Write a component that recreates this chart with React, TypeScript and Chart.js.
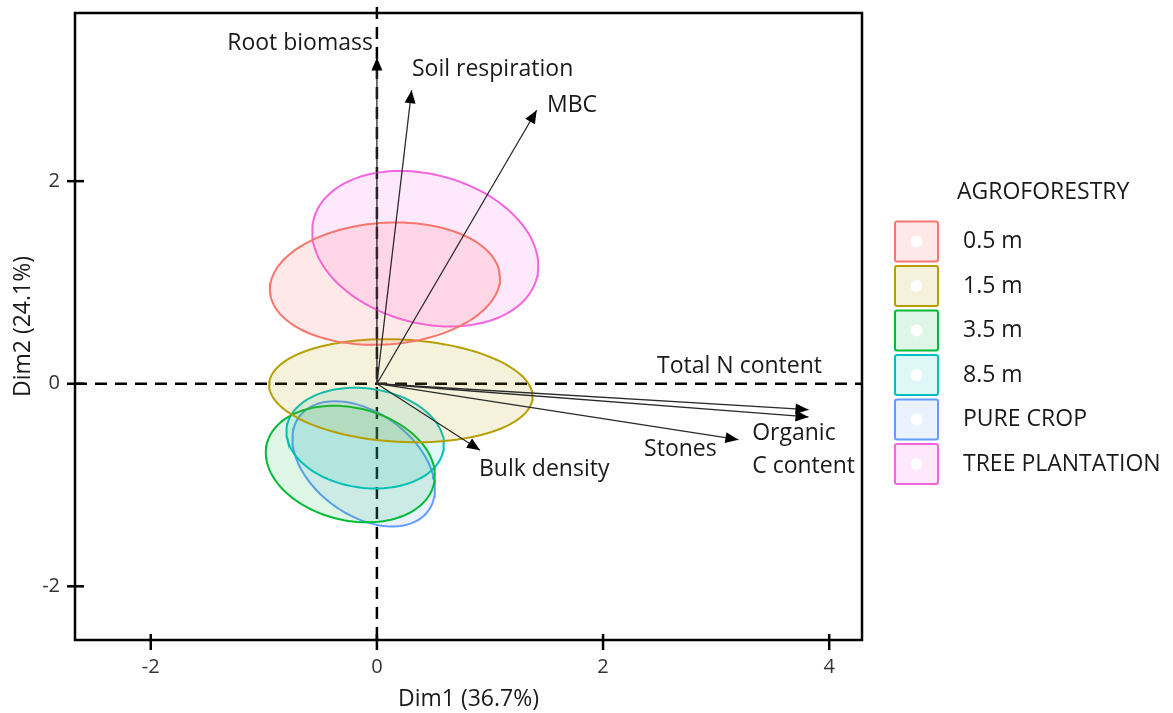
import React, { useEffect, useRef } from "react";
import { Chart, registerables } from "chart.js";

Chart.register(...registerables);

// ---------- data ----------
const legendTitle = "AGROFORESTRY";
const groups = ["0.5 m", "1.5 m", "3.5 m", "8.5 m", "PURE CROP", "TREE PLANTATION"];
const groupColors = ["#F8766D", "#B79F00", "#00BA38", "#00BFC4", "#619CFF", "#F564E3"];
const groupFills = [
  "rgba(248,118,109,0.16)",
  "rgba(183,159,0,0.14)",
  "rgba(0,186,56,0.13)",
  "rgba(0,191,196,0.13)",
  "rgba(97,156,255,0.13)",
  "rgba(245,100,227,0.15)",
];
// confidence ellipses (data units): centre, semi-axes, rotation (deg)
const ellipseCenterX = [0.071, 0.212, -0.235, -0.104, -0.117, 0.427];
const ellipseCenterY = [0.988, -0.069, -0.793, -0.537, -0.791, 1.333];
const ellipseMajor = [1.02, 1.167, 0.766, 0.702, 0.739, 1.03];
const ellipseMinor = [0.6, 0.505, 0.551, 0.489, 0.483, 0.727];
const ellipseAngle = [4.9, -3.5, -18.2, -10.3, -43.6, -19.8];

const variables = ["Root biomass", "Soil respiration", "MBC", "Total N content", "Organic C content", "Stones", "Bulk density"];
const loadingX = [0, 0.307, 1.413, 3.817, 3.817, 3.197, 0.912];
const loadingY = [3.22, 2.897, 2.7, -0.256, -0.328, -0.552, -0.657];
const labelLines = [["Root biomass"], ["Soil respiration"], ["MBC"], ["Total N content"], ["Organic", "C content"], ["Stones"], ["Bulk density"]];
const labelX = [-0.035, 0.31, 1.504, 2.478, 3.319, 2.363, 0.903];
const labelY = [3.36, 3.1, 2.749, 0.167, -0.493, -0.65, -0.847];
const labelAlign = ["right", "left", "left", "left", "left", "left", "left"];

const xTicks = [-2, 0, 2, 4];
const yTicks = [-2, 0, 2];
const xTitle = "Dim1 (36.7%)";
const yTitle = "Dim2 (24.1%)";

const FONT = "'Open Sans', 'Noto Sans', sans-serif";
const TEXT = "#1a1a1a";

function ellipsePoints(i: number) {
  const pts: { x: number; y: number }[] = [];
  const a = ellipseMajor[i];
  const b = ellipseMinor[i];
  const phi = (ellipseAngle[i] * Math.PI) / 180;
  const n = 120;
  for (let k = 0; k <= n; k++) {
    const t = (k / n) * Math.PI * 2;
    pts.push({
      x: ellipseCenterX[i] + a * Math.cos(phi) * Math.cos(t) - b * Math.sin(phi) * Math.sin(t),
      y: ellipseCenterY[i] + a * Math.sin(phi) * Math.cos(t) + b * Math.cos(phi) * Math.sin(t),
    });
  }
  return pts;
}

const biplotPlugin = {
  id: "biplot",
  beforeDatasetsDraw(chart: any) {
    const { ctx, chartArea: ca, scales } = chart;
    const x0 = scales.x.getPixelForValue(0);
    const y0 = scales.y.getPixelForValue(0);
    ctx.save();
    ctx.strokeStyle = "#000";
    ctx.lineWidth = 2.5;
    ctx.setLineDash([12, 8]);
    ctx.beginPath();
    ctx.moveTo(ca.left, y0);
    ctx.lineTo(ca.right, y0);
    ctx.stroke();
    ctx.beginPath();
    ctx.moveTo(x0, ca.top - 6);
    ctx.lineTo(x0, ca.bottom);
    ctx.stroke();
    ctx.restore();
  },
  beforeDatasetDraw(chart: any, args: any) {
    const ds = chart.data.datasets[args.index];
    if (ds.kind !== "ellipse") return;
    const pts = args.meta.data;
    const { ctx } = chart;
    ctx.save();
    ctx.fillStyle = ds.fillColor;
    ctx.beginPath();
    pts.forEach((p: any, k: number) => (k === 0 ? ctx.moveTo(p.x, p.y) : ctx.lineTo(p.x, p.y)));
    ctx.closePath();
    ctx.fill();
    ctx.restore();
  },
  afterDatasetsDraw(chart: any) {
    const { ctx, scales } = chart;
    ctx.save();
    chart.data.datasets.forEach((ds: any, i: number) => {
      if (ds.kind !== "arrow") return;
      const meta = chart.getDatasetMeta(i);
      const p0 = meta.data[0];
      const p1 = meta.data[1];
      const ang = Math.atan2(p1.y - p0.y, p1.x - p0.x);
      const L = 13;
      const W = 5.5;
      ctx.fillStyle = "#000";
      ctx.beginPath();
      ctx.moveTo(p1.x, p1.y);
      ctx.lineTo(p1.x - L * Math.cos(ang) + W * Math.sin(ang), p1.y - L * Math.sin(ang) - W * Math.cos(ang));
      ctx.lineTo(p1.x - L * Math.cos(ang) - W * Math.sin(ang), p1.y - L * Math.sin(ang) + W * Math.cos(ang));
      ctx.closePath();
      ctx.fill();
    });
    ctx.font = `23px ${FONT}`;
    ctx.fillStyle = TEXT;
    ctx.textBaseline = "middle";
    labelLines.forEach((lines, i) => {
      const px = scales.x.getPixelForValue(labelX[i]);
      const py = scales.y.getPixelForValue(labelY[i]);
      ctx.textAlign = labelAlign[i] as CanvasTextAlign;
      lines.forEach((ln, k) => ctx.fillText(ln, px, py + k * 33));
    });
    ctx.restore();
  },
  afterDraw(chart: any) {
    const { ctx, chartArea: ca, scales } = chart;
    ctx.save();
    ctx.strokeStyle = "#000";
    ctx.lineWidth = 2.5;
    ctx.strokeRect(ca.left, ca.top, ca.right - ca.left, ca.bottom - ca.top);
    xTicks.forEach((v) => {
      const px = scales.x.getPixelForValue(v);
      ctx.beginPath();
      ctx.moveTo(px, ca.bottom - 6);
      ctx.lineTo(px, ca.bottom + 10);
      ctx.stroke();
    });
    yTicks.forEach((v) => {
      const py = scales.y.getPixelForValue(v);
      ctx.beginPath();
      ctx.moveTo(ca.left - 8, py);
      ctx.lineTo(ca.left + 9, py);
      ctx.stroke();
    });
    // legend
    const bx = 895;
    const bw = 43;
    const bh = 40;
    const top0 = 221.5;
    const step = 44.5;
    ctx.font = `23px ${FONT}`;
    ctx.fillStyle = TEXT;
    ctx.textAlign = "left";
    ctx.textBaseline = "middle";
    ctx.fillText(legendTitle, 957, 192);
    groups.forEach((g, i) => {
      const y = top0 + i * step;
      ctx.fillStyle = "#fff";
      ctx.fillRect(bx, y, bw, bh);
      ctx.fillStyle = groupFills[i];
      ctx.strokeStyle = groupColors[i];
      ctx.lineWidth = 2;
      ctx.beginPath();
      ctx.roundRect(bx, y, bw, bh, 2);
      ctx.fill();
      ctx.stroke();
      ctx.fillStyle = "#fff";
      ctx.beginPath();
      ctx.arc(bx + bw / 2, y + bh / 2, 6, 0, Math.PI * 2);
      ctx.fill();
      ctx.fillStyle = TEXT;
      ctx.fillText(g, 963, y + bh / 2);
    });
    ctx.restore();
  },
};

export default function App() {
  const ref = useRef<HTMLCanvasElement | null>(null);
  useEffect(() => {
    if (!ref.current) return;
    const arrowSets = variables.map((v, i) => ({
      kind: "arrow",
      label: v,
      data: [
        { x: 0, y: 0 },
        { x: loadingX[i], y: loadingY[i] },
      ],
      showLine: true,
      borderColor: "#2a2a2a",
      borderWidth: 1.3,
      pointRadius: 0,
      fill: false,
      order: 0,
    }));
    const ellipseSets = groups.map((g, i) => ({
      kind: "ellipse",
      label: g,
      data: ellipsePoints(i),
      showLine: true,
      borderColor: groupColors[i],
      borderWidth: 2,
      fillColor: groupFills[i],
      pointRadius: 0,
      fill: false,
      tension: 0,
      order: 1,
    }));
    const chart = new Chart(ref.current, {
      type: "scatter",
      data: { datasets: [...arrowSets, ...ellipseSets] as any },
      options: {
        animation: false,
        responsive: false,
        events: [],
        layout: { padding: { left: 0, top: 13, right: 311, bottom: 0 } },
        plugins: { legend: { display: false }, tooltip: { enabled: false } },
        scales: {
          x: {
            type: "linear",
            min: -2.67,
            max: 4.29,
            afterBuildTicks: (s: any) => {
              s.ticks = xTicks.map((v) => ({ value: v }));
            },
            afterFit: (s: any) => {
              s.height = 73;
              s.paddingLeft = 0;
              s.paddingRight = 0;
            },
            grid: { display: false, drawTicks: false },
            border: { display: false },
            ticks: { padding: 15, color: "#333", font: { family: FONT, size: 20 } },
            title: {
              display: true,
              text: xTitle,
              color: TEXT,
              padding: { top: 0, bottom: 0 },
              font: { family: FONT, size: 23 },
            },
          },
          y: {
            type: "linear",
            min: -2.53,
            max: 3.66,
            afterBuildTicks: (s: any) => {
              s.ticks = yTicks.map((v) => ({ value: v }));
            },
            afterFit: (s: any) => {
              s.width = 75;
              s.paddingTop = 0;
              s.paddingBottom = 0;
            },
            grid: { display: false, drawTicks: false },
            border: { display: false },
            ticks: { padding: 15, color: "#333", font: { family: FONT, size: 20 } },
            title: {
              display: true,
              text: yTitle,
              color: TEXT,
              padding: { top: 10, bottom: 0 },
              font: { family: FONT, size: 23 },
            },
          },
        },
      },
      plugins: [biplotPlugin],
    });
    return () => chart.destroy();
  }, []);
  return (
    <div style={{ position: "absolute", left: 0, top: 0, width: 1173, height: 713, background: "#fff" }}>
      <canvas ref={ref} width={1173} height={713} />
    </div>
  );
}
